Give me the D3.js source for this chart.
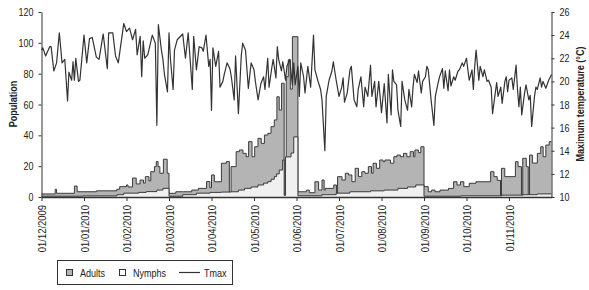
<!DOCTYPE html>
<html><head><meta charset="utf-8">
<script src="https://cdn.jsdelivr.net/npm/d3@7"></script>
<style>
html,body{margin:0;padding:0;background:#fff;}
svg text{font-family:"Liberation Sans",Arial,sans-serif;fill:#222;}
</style></head>
<body><svg id="c" width="589" height="290"></svg>
<script>
// ---- data (day offsets from 01/12/2009) ----
const monthTickLabels = ["01/12/2009","01/01/2010","01/02/2010","01/03/2010","01/04/2010","01/05/2010",
  "01/06/2010","01/07/2010","01/08/2010","01/09/2010","01/10/2010","01/11/2010"];
const popTicks = [0,20,40,60,80,100,120];
const tempTicks = [10,12,14,16,18,20,22,24,26];
const seriesNames = ["Adults","Nymphs","Tmax"];

const tmax = [[0,22.7],[1,22.9],[3,22.2],[6,23.0],[7,23.0],[9,20.9],[11,21.6],[13,24.2],[15,21.6],[17,21.9],[19,18.3],[20,20.8],[22,20.1],[23,21.7],[24,20.1],[25,22.0],[27,20.0],[28,20.1],[31,24.0],[33,21.6],[35,23.7],[37,23.8],[40,22.1],[42,21.9],[45,24.1],[48,21.1],[49,24.2],[52,24.2],[54,22.2],[56,21.6],[60,25.0],[62,24.3],[64,24.6],[65,24.1],[66,23.6],[68,24.5],[69,22.3],[71,23.9],[72,20.4],[73,23.5],[74,22.0],[76,22.3],[79,24.0],[81,23.3],[82,16.2],[83,24.9],[85,22.7],[86,21.9],[87,20.6],[89,19.1],[90,24.2],[91,22.0],[93,19.3],[94,22.7],[96,23.6],[100,24.1],[102,22.0],[104,24.2],[107,19.3],[108,23.9],[110,21.0],[112,23.0],[114,22.9],[115,22.6],[117,24.0],[119,21.3],[120,21.9],[121,17.5],[122,22.9],[124,21.3],[126,22.6],[127,19.5],[129,20.0],[130,20.6],[132,21.6],[134,21.1],[135,20.4],[137,18.4],[138,22.2],[140,17.2],[142,22.2],[143,23.3],[145,22.7],[147,19.4],[149,21.6],[151,21.0],[152,20.0],[154,18.4],[156,19.8],[158,20.4],[159,19.3],[161,22.0],[162,19.5],[164,21.2],[165,21.9],[167,20.3],[168,23.0],[169,21.9],[171,20.9],[172,21.7],[174,20.1],[175,21.3],[177,21.9],[179,19.7],[180,21.6],[181,19.7],[183,21.3],[184,18.7],[185,21.6],[187,20.4],[188,19.0],[190,21.3],[192,19.5],[194,24.0],[195,21.0],[197,20.1],[199,19.3],[200,18.4],[202,14.0],[203,18.7],[205,20.1],[207,20.9],[208,21.7],[210,20.1],[212,18.7],[214,19.5],[215,20.3],[216,18.2],[218,19.0],[220,21.0],[221,21.3],[223,18.4],[225,17.8],[226,19.3],[228,20.4],[230,17.8],[231,19.5],[233,18.7],[235,21.4],[236,18.7],[238,20.0],[239,17.8],[241,20.0],[243,17.3],[245,19.8],[247,16.4],[248,20.6],[250,17.1],[251,21.0],[252,20.0],[254,19.7],[255,17.5],[257,16.1],[258,20.0],[260,18.4],[262,17.5],[263,19.3],[265,17.8],[266,19.5],[267,20.6],[269,19.9],[270,20.9],[272,19.0],[273,20.0],[275,20.4],[276,21.3],[277,21.0],[279,18.4],[281,16.2],[282,18.7],[284,19.9],[285,20.4],[287,21.1],[288,19.4],[289,20.9],[291,19.2],[292,21.0],[293,19.6],[295,20.4],[296,20.1],[298,20.9],[299,21.0],[301,21.6],[302,21.3],[304,22.0],[305,21.0],[306,20.1],[308,21.0],[309,19.3],[310,21.3],[311,22.7],[313,20.1],[314,21.3],[316,20.4],[317,21.0],[319,20.0],[320,20.1],[322,19.5],[323,17.2],[325,19.0],[326,19.9],[327,18.7],[329,19.5],[330,18.1],[332,20.0],[333,20.4],[334,19.1],[335,20.1],[337,20.3],[338,19.3],[340,21.4],[341,19.3],[342,17.8],[343,19.5],[344,17.1],[346,19.0],[347,19.7],[349,18.4],[350,18.8],[351,16.1],[353,18.7],[354,19.5],[355,19.3],[357,20.3],[358,19.5],[359,20.0],[361,19.4],[363,20.1],[365,20.6]];

const adults = [[0,2.0],[10,5.0],[11,2.4],[24,7.1],[26,3.4],[40,4.0],[55,5.0],[57,6.7],[62,7.8],[63,6.5],[66,12.3],[68.4,8.5],[70.9,11],[73.2,9],[74.4,13.2],[76.8,10.5],[78,16.4],[80.4,19.7],[81.6,23],[82.8,19.7],[84,15.4],[86.3,24.5],[88.8,15.4],
 [90,2.4],[95,3.4],[100.7,3.4],[106.6,4.5],[111.4,5.6],[117.4,10],[119.8,6],[121,14.3],[123,9.9],[128,21.9],[131.5,23],[133.6,0.5],[134.8,19.7],[138.4,29.4],[140.7,30.5],[143.2,28.3],[145.5,26.1],[147.2,35.9],[149.6,26.1],[151.5,32.6],[153.9,38],[156.3,34.8],[158.6,40.2],[161.1,41.3],[163.4,45.6],[165.8,50],[167.7,65],[169.4,56.4],[171.1,73.8],[173,2],[174.5,78],[176,89],[177.5,70],[179,104],
 [183,3.4],[189,4.5],[191,2.8],[195,9.9],[197.6,4.5],[200,11],[201.5,4.5],[202.3,5.6],[208.3,7.8],[210.2,0.5],[211,13.2],[214.2,11],[216.6,15.4],[219,14.3],[221.4,9.9],[223.8,18.6],[226.2,13.2],[228.6,16.4],[230.9,15.4],[233.4,19.7],[235.7,15.4],[236.9,21.9],[239.3,18.6],[241.7,24],[244.1,22.9],[245.5,24],[249.5,21.9],[252,26.1],[254.3,27.2],[256.7,26.1],[259.1,28.3],[261.5,26.1],[263.9,29.4],[266.3,26.1],[267.4,30.5],[269.9,28.8],[271.7,32.6],
 [274,6.7],[277,3.4],[279.4,4.5],[281.8,3.4],[285.3,4.5],[291.3,5.6],[294.9,9.9],[297.3,7.8],[299.7,9.9],[302.1,6.7],[306,8.9],[310.9,9.9],[321.6,16.4],[324,13.2],[326.4,10.8],[328.8,1],[329.5,18.6],[331.9,13.2],[339.5,22.9],[341.4,19.7],[343.8,1],[344.7,25.1],[347.2,19.7],[348.6,1],[349.5,27.2],[351.5,22],[355,28.3],[357.4,32.6],[359.1,26.1],[361,33.7],[363.4,35.9],[365,35.9]];

const nymphs = [[0,0.5],[30,0.7],[55,1.5],[60,2.5],[70,3],[75,3.5],[82,4.5],[86,5.6],
 [90,0.5],[100,1.5],[110,2.5],[120,3],[128,3.2],[134.8,3.4],[140,4.5],[144.3,5.6],[149,6.5],[153.9,7.8],[158,9],[161.1,10],[163.5,11.5],[165.8,13.2],[167.5,15],[169.4,17.5],[171.9,24],[173,1],[174,26],[178,28.5],[180,39],
 [183,0.8],[200,1.5],[210,2.5],[220,3.4],[235,4],[245,4.5],[255,5.6],[262,6.5],[268,7.8],
 [274,0.5],[300,0.8],[330,1.2],[345,1.5],[355,2],[365,2]];

// ---- chart ----
const svg = d3.select("#c");
const parse = d3.utcParse("%d/%m/%Y");
const start = Date.UTC(2009,11,1);
const toDate = d => new Date(start + d*864e5);
const xL = 41.5, xR = 551.5, yT = 12, yB = 197;

const bounds = monthTickLabels.map(parse).concat([new Date(Date.UTC(2010,11,1))]);
const x = d3.scaleUtc().domain(bounds).range(bounds.map((d,i)=> xL + i*(xR-xL)/12));
const yP = d3.scaleLinear().domain([0,120]).range([yB,yT]);
const yTm = d3.scaleLinear().domain([10,26]).range([yB,yT]);

const areaA = d3.area().curve(d3.curveStepAfter).x(d=>x(toDate(d[0]))).y0(yB).y1(d=>yP(d[1]));
const lineA = d3.line().curve(d3.curveStepAfter).x(d=>x(toDate(d[0]))).y(d=>yP(d[1]));

svg.append("path").attr("d", areaA(adults)).attr("fill","#b4b4b4");
svg.append("path").attr("d", lineA(adults)).attr("fill","none").attr("stroke","#3a3a3a").attr("stroke-width",1);
svg.append("path").attr("d", areaA(nymphs)).attr("fill","#f0f0f0");
svg.append("path").attr("d", lineA(nymphs)).attr("fill","none").attr("stroke","#3a3a3a").attr("stroke-width",1);

const lineT = d3.line().x(d=>x(toDate(d[0]))).y(d=>yTm(d[1]));
svg.append("path").attr("d", lineT(tmax)).attr("fill","none").attr("stroke","#333").attr("stroke-width",1.2).attr("stroke-linejoin","round");

// axes
const styleAxis = g => { g.selectAll("path,line").attr("stroke","#333"); g.selectAll("text").attr("font-size","11px").attr("fill","#222"); };
svg.append("g").attr("transform",`translate(${xL},0)`)
  .call(d3.axisLeft(yP).tickValues(popTicks).tickSize(3).tickSizeOuter(0).tickPadding(5))
  .call(styleAxis);
svg.append("g").attr("transform",`translate(${xR},0)`)
  .call(d3.axisRight(yTm).tickValues(tempTicks).tickSize(3).tickSizeOuter(0).tickPadding(5))
  .call(styleAxis);
const gx = svg.append("g").attr("transform",`translate(0,${yB})`)
  .call(d3.axisBottom(x).tickValues(monthTickLabels.map(parse)).tickFormat(d3.utcFormat("%d/%m/%Y")).tickSize(4).tickSizeOuter(0))
  .call(styleAxis);
gx.selectAll("text").attr("transform","rotate(-90)").attr("text-anchor","end").attr("x",-8).attr("y",0).attr("dy","0.35em").attr("font-size","11.5px");
gx.select(".domain").attr("stroke-width",1.3);

svg.append("text").attr("transform","translate(13,104) rotate(-90)").attr("text-anchor","middle").attr("dy","0.35em")
  .attr("font-size","11px").attr("font-weight","bold").text("Population");
svg.append("text").attr("transform","translate(580,104) rotate(-90)").attr("text-anchor","middle").attr("dy","0.35em")
  .attr("font-size","11px").attr("font-weight","bold").text("Maximum temperature (°C)");

// legend
const lg = svg.append("g");
lg.append("rect").attr("x",57.5).attr("y",260.5).attr("width",175).attr("height",24).attr("fill","#fff").attr("stroke","#333");
lg.append("rect").attr("x",66.5).attr("y",269.5).attr("width",6).attr("height",6).attr("fill","#b4b4b4").attr("stroke","#333");
lg.append("text").attr("x",80).attr("y",277).attr("font-size","11px").text(seriesNames[0]);
lg.append("rect").attr("x",119.5).attr("y",269.5).attr("width",6).attr("height",6).attr("fill","#fff").attr("stroke","#333");
lg.append("text").attr("x",133).attr("y",277).attr("font-size","11px").text(seriesNames[1]);
lg.append("line").attr("x1",179).attr("x2",200).attr("y1",272.5).attr("y2",272.5).attr("stroke","#333").attr("stroke-width",1.2);
lg.append("text").attr("x",204).attr("y",277).attr("font-size","11px").text(seriesNames[2]);

// narrow the typeface (Arial Narrow look) by compressing each text horizontally
svg.selectAll("text").each(function(){
  const len = this.getComputedTextLength();
  if (len > 0) { this.setAttribute("textLength", (len*0.82).toFixed(2)); this.setAttribute("lengthAdjust","spacingAndGlyphs"); }
});
</script></body></html>
